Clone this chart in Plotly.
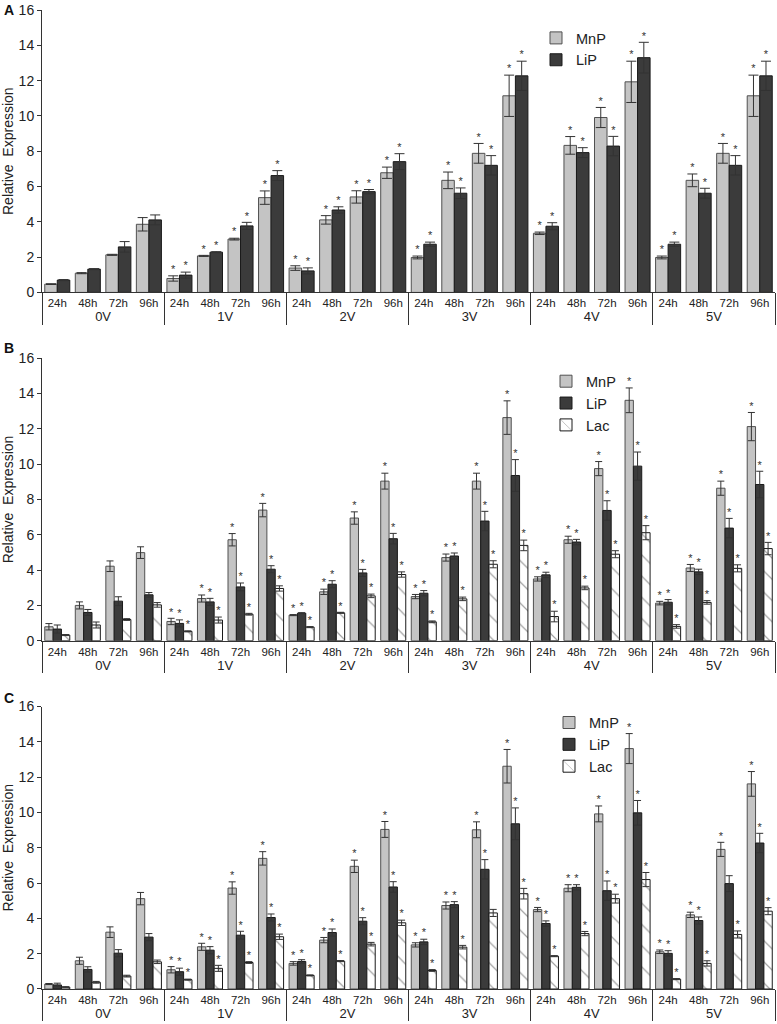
import plotly.graph_objects as go

groups = ["0V", "1V", "2V", "3V", "4V", "5V"]
times = ["24h", "48h", "72h", "96h"]

# ---- Panel A ----
A_MnP = [0.47, 1.09, 2.13, 3.86, 0.79, 2.07, 3.02, 5.37, 1.38, 4.11, 5.41, 6.78,
         1.98, 6.35, 7.88, 11.14, 3.35, 8.33, 9.91, 11.93, 1.98, 6.35, 7.88, 11.14]
A_MnP_err = [0.02, 0.03, 0.03, 0.38, 0.15, 0.03, 0.05, 0.38, 0.13, 0.24, 0.35, 0.32,
             0.08, 0.47, 0.56, 1.17, 0.07, 0.50, 0.57, 1.17, 0.08, 0.36, 0.56, 1.17]
A_LiP = [0.70, 1.32, 2.58, 4.11, 0.98, 2.28, 3.77, 6.62, 1.22, 4.67, 5.71, 7.41,
         2.73, 5.62, 7.20, 12.27, 3.75, 7.92, 8.29, 13.30, 2.73, 5.62, 7.20, 12.27]
A_LiP_err = [0.03, 0.03, 0.30, 0.28, 0.17, 0.03, 0.20, 0.28, 0.17, 0.18, 0.12, 0.45,
             0.12, 0.30, 0.55, 0.83, 0.20, 0.28, 0.55, 0.87, 0.12, 0.28, 0.55, 0.83]
A_MnP_sig = [0, 0, 0, 0] + [1] * 20
A_LiP_sig = [0, 0, 0, 0] + [1] * 20

# ---- Panel B ----
B_MnP = [0.79, 2.00, 4.22, 4.99, 1.09, 2.39, 5.72, 7.40, 1.45, 2.77, 6.95, 9.04,
         2.50, 4.71, 9.04, 12.64, 3.50, 5.72, 9.75, 13.62, 2.13, 4.12, 8.64, 12.13]
B_MnP_err = [0.18, 0.20, 0.30, 0.33, 0.18, 0.20, 0.35, 0.38, 0.03, 0.15, 0.35, 0.45,
             0.12, 0.20, 0.45, 0.95, 0.12, 0.20, 0.40, 0.70, 0.10, 0.20, 0.40, 0.80]
B_LiP = [0.66, 1.60, 2.24, 2.60, 0.98, 2.20, 3.05, 4.05, 1.56, 3.20, 3.84, 5.78,
         2.69, 4.80, 6.78, 9.36, 3.73, 5.59, 7.38, 9.89, 2.18, 3.90, 6.38, 8.85]
B_LiP_err = [0.23, 0.17, 0.25, 0.13, 0.20, 0.20, 0.22, 0.20, 0.03, 0.20, 0.20, 0.30,
             0.15, 0.17, 0.55, 0.90, 0.15, 0.15, 0.55, 0.80, 0.15, 0.15, 0.55, 0.75]
B_Lac = [0.32, 0.89, 1.20, 2.03, 0.53, 1.17, 1.50, 2.96, 0.77, 1.58, 2.54, 3.75,
         1.07, 2.37, 4.33, 5.40, 1.37, 2.99, 4.90, 6.12, 0.81, 2.17, 4.10, 5.22]
B_Lac_err = [0.03, 0.17, 0.05, 0.13, 0.03, 0.17, 0.05, 0.15, 0.03, 0.03, 0.10, 0.15,
             0.05, 0.10, 0.20, 0.30, 0.30, 0.10, 0.20, 0.40, 0.10, 0.10, 0.20, 0.35]
B_MnP_sig = [0, 0, 0, 0] + [1] * 20
B_LiP_sig = [0, 0, 0, 0] + [1] * 20
B_Lac_sig = [0, 0, 0, 0] + [1] * 20

# ---- Panel C ----
C_MnP = [0.28, 1.60, 3.22, 5.12, 1.09, 2.39, 5.72, 7.40, 1.45, 2.77, 6.95, 9.04,
         2.50, 4.73, 9.02, 12.62, 4.50, 5.71, 9.92, 13.62, 2.11, 4.20, 7.91, 11.62]
C_MnP_err = [0.03, 0.20, 0.30, 0.35, 0.18, 0.20, 0.35, 0.38, 0.10, 0.15, 0.35, 0.45,
             0.12, 0.20, 0.45, 0.95, 0.12, 0.20, 0.45, 0.85, 0.10, 0.15, 0.40, 0.70]
C_LiP = [0.23, 1.11, 2.03, 2.94, 0.98, 2.20, 3.05, 4.05, 1.56, 3.20, 3.84, 5.78,
         2.67, 4.78, 6.78, 9.36, 3.71, 5.76, 5.57, 9.98, 2.02, 3.88, 5.97, 8.27]
C_LiP_err = [0.10, 0.15, 0.20, 0.20, 0.20, 0.20, 0.22, 0.20, 0.10, 0.20, 0.20, 0.30,
             0.15, 0.17, 0.55, 0.90, 0.15, 0.15, 0.55, 0.70, 0.15, 0.20, 0.45, 0.55]
C_Lac = [0.11, 0.38, 0.73, 1.54, 0.53, 1.17, 1.50, 2.96, 0.77, 1.58, 2.54, 3.75,
         1.05, 2.37, 4.31, 5.40, 1.86, 3.14, 5.12, 6.20, 0.56, 1.45, 3.09, 4.41]
C_Lac_err = [0.02, 0.05, 0.05, 0.10, 0.03, 0.17, 0.05, 0.15, 0.03, 0.03, 0.10, 0.15,
             0.05, 0.10, 0.20, 0.30, 0.03, 0.12, 0.25, 0.40, 0.03, 0.15, 0.20, 0.20]
C_MnP_sig = [0, 0, 0, 0] + [1] * 20
C_LiP_sig = [0, 0, 0, 0] + [1] * 16 + [1, 1, 0, 1]
C_Lac_sig = [0, 0, 0, 0] + [1] * 8 + [1, 1, 0, 1] + [1] * 8

FONT = "Liberation Sans, Arial, sans-serif"
STYLE = {
    "MnP": dict(color="#c4c4c4", line=dict(color="#505050", width=1)),
    "LiP": dict(color="#3b3b3b", line=dict(color="#1a1a1a", width=1)),
    "Lac": dict(color="#ffffff", line=dict(color="#1a1a1a", width=1),
                pattern=dict(shape="\\", fgcolor="#444444", bgcolor="#ffffff",
                             size=15, solidity=0.08)),
}

group_lbl = ['<span style="font-size:13px">%s</span>' % g for g in groups]
xcat = [[g for g in group_lbl for _ in times], [t for _ in groups for t in times]]

panels = [
    ("", "", "legend", 5, [("MnP", A_MnP, A_MnP_err, A_MnP_sig), ("LiP", A_LiP, A_LiP_err, A_LiP_sig)]),
    ("2", "2", "legend2", 3.5, [("MnP", B_MnP, B_MnP_err, B_MnP_sig), ("LiP", B_LiP, B_LiP_err, B_LiP_sig),
                               ("Lac", B_Lac, B_Lac_err, B_Lac_sig)]),
    ("3", "3", "legend3", 3.5, [("MnP", C_MnP, C_MnP_err, C_MnP_sig), ("LiP", C_LiP, C_LiP_err, C_LiP_sig),
                               ("Lac", C_Lac, C_Lac_err, C_Lac_sig)]),
]

fig = go.Figure()
for xs, ys, leg, capw, series in panels:
    for name, vals, errs, sig in series:
        fig.add_trace(go.Bar(
            x=xcat, y=vals, name=name, marker=STYLE[name],
            error_y=dict(type="data", array=errs, color="#333333", thickness=1, width=capw),
            xaxis="x" + xs, yaxis="y" + ys, legend=leg, offsetgroup=name,
        ))
    for name, vals, errs, sig in series:
        fig.add_trace(go.Scatter(
            x=xcat, y=[v + e for v, e in zip(vals, errs)],
            text=["*" if s else "" for s in sig], mode="text",
            textposition="top center", textfont=dict(size=11, color="#333333", family=FONT),
            xaxis="x" + xs, yaxis="y" + ys, showlegend=False, offsetgroup=name,
            hoverinfo="skip",
        ))

W, H = 777, 1024
ml, mr, mt, mb = 42, 2, 8, 35
ph = H - mt - mb
doms = {
    "": [(989 - 291) / ph, 1.0],
    "2": [(989 - 640) / ph, (989 - 357) / ph],
    "3": [0.0, (989 - 706) / ph],
}

layout = dict(
    width=W, height=H, margin=dict(l=ml, r=mr, t=mt, b=mb),
    paper_bgcolor="white", plot_bgcolor="white",
    font=dict(family=FONT, color="#222222"),
    barmode="group", bargap=0.18, bargroupgap=0.0,
    scattermode="group", scattergap=0.18,
)
for xs, ys, leg, capw, series in panels:
    layout["xaxis" + xs] = dict(
        type="multicategory", anchor="y" + ys, domain=[0, 1],
        range=[-0.5, len(groups) * len(times) - 0.5],
        showline=True, linecolor="#333333", linewidth=1, ticks="",
        showdividers=True, dividercolor="#333333", dividerwidth=1,
        tickfont=dict(size=11.5, family=FONT, color="#222222"),
        showgrid=False, zeroline=False,
    )
    layout["yaxis" + ys] = dict(
        anchor="x" + xs, domain=doms[ys], range=[0, 16], dtick=2,
        showline=True, linecolor="#333333", linewidth=1,
        ticks="outside", ticklen=4, tickcolor="#333333",
        tickfont=dict(size=14, family=FONT, color="#222222"),
        showgrid=False, zeroline=False,
        title=dict(text="Relative  Expression", font=dict(size=14, family=FONT, color="#222222"),
                   standoff=3),
    )

legpos = {
    "legend": ((536 - ml) / (W - ml - mr), (989 - 20) / ph),
    "legend2": ((546 - ml) / (W - ml - mr), (989 - 364) / ph),
    "legend3": ((549 - ml) / (W - ml - mr), (989 - 706) / ph),
}
for leg, (lx, ly) in legpos.items():
    layout[leg] = dict(x=lx, y=ly, xanchor="left", yanchor="top",
                       bgcolor="rgba(0,0,0,0)", font=dict(size=14.5, family=FONT, color="#222222"),
                       tracegroupgap=0, traceorder="normal", itemwidth=30)

fig.update_layout(**layout)

for label, py in (("A", 8), ("B", 347), ("C", 697)):
    fig.add_annotation(text="<b>%s</b>" % label, xref="paper", yref="paper",
                       x=-(ml - 2) / (W - ml - mr), y=(989 - py) / ph,
                       xanchor="left", yanchor="middle", showarrow=False,
                       font=dict(size=14, family=FONT, color="#111111"))

fig.write_html("out.html", config={"displayModeBar": False},
               post_script="document.body.style.margin='0';document.body.style.overflow='hidden';")
